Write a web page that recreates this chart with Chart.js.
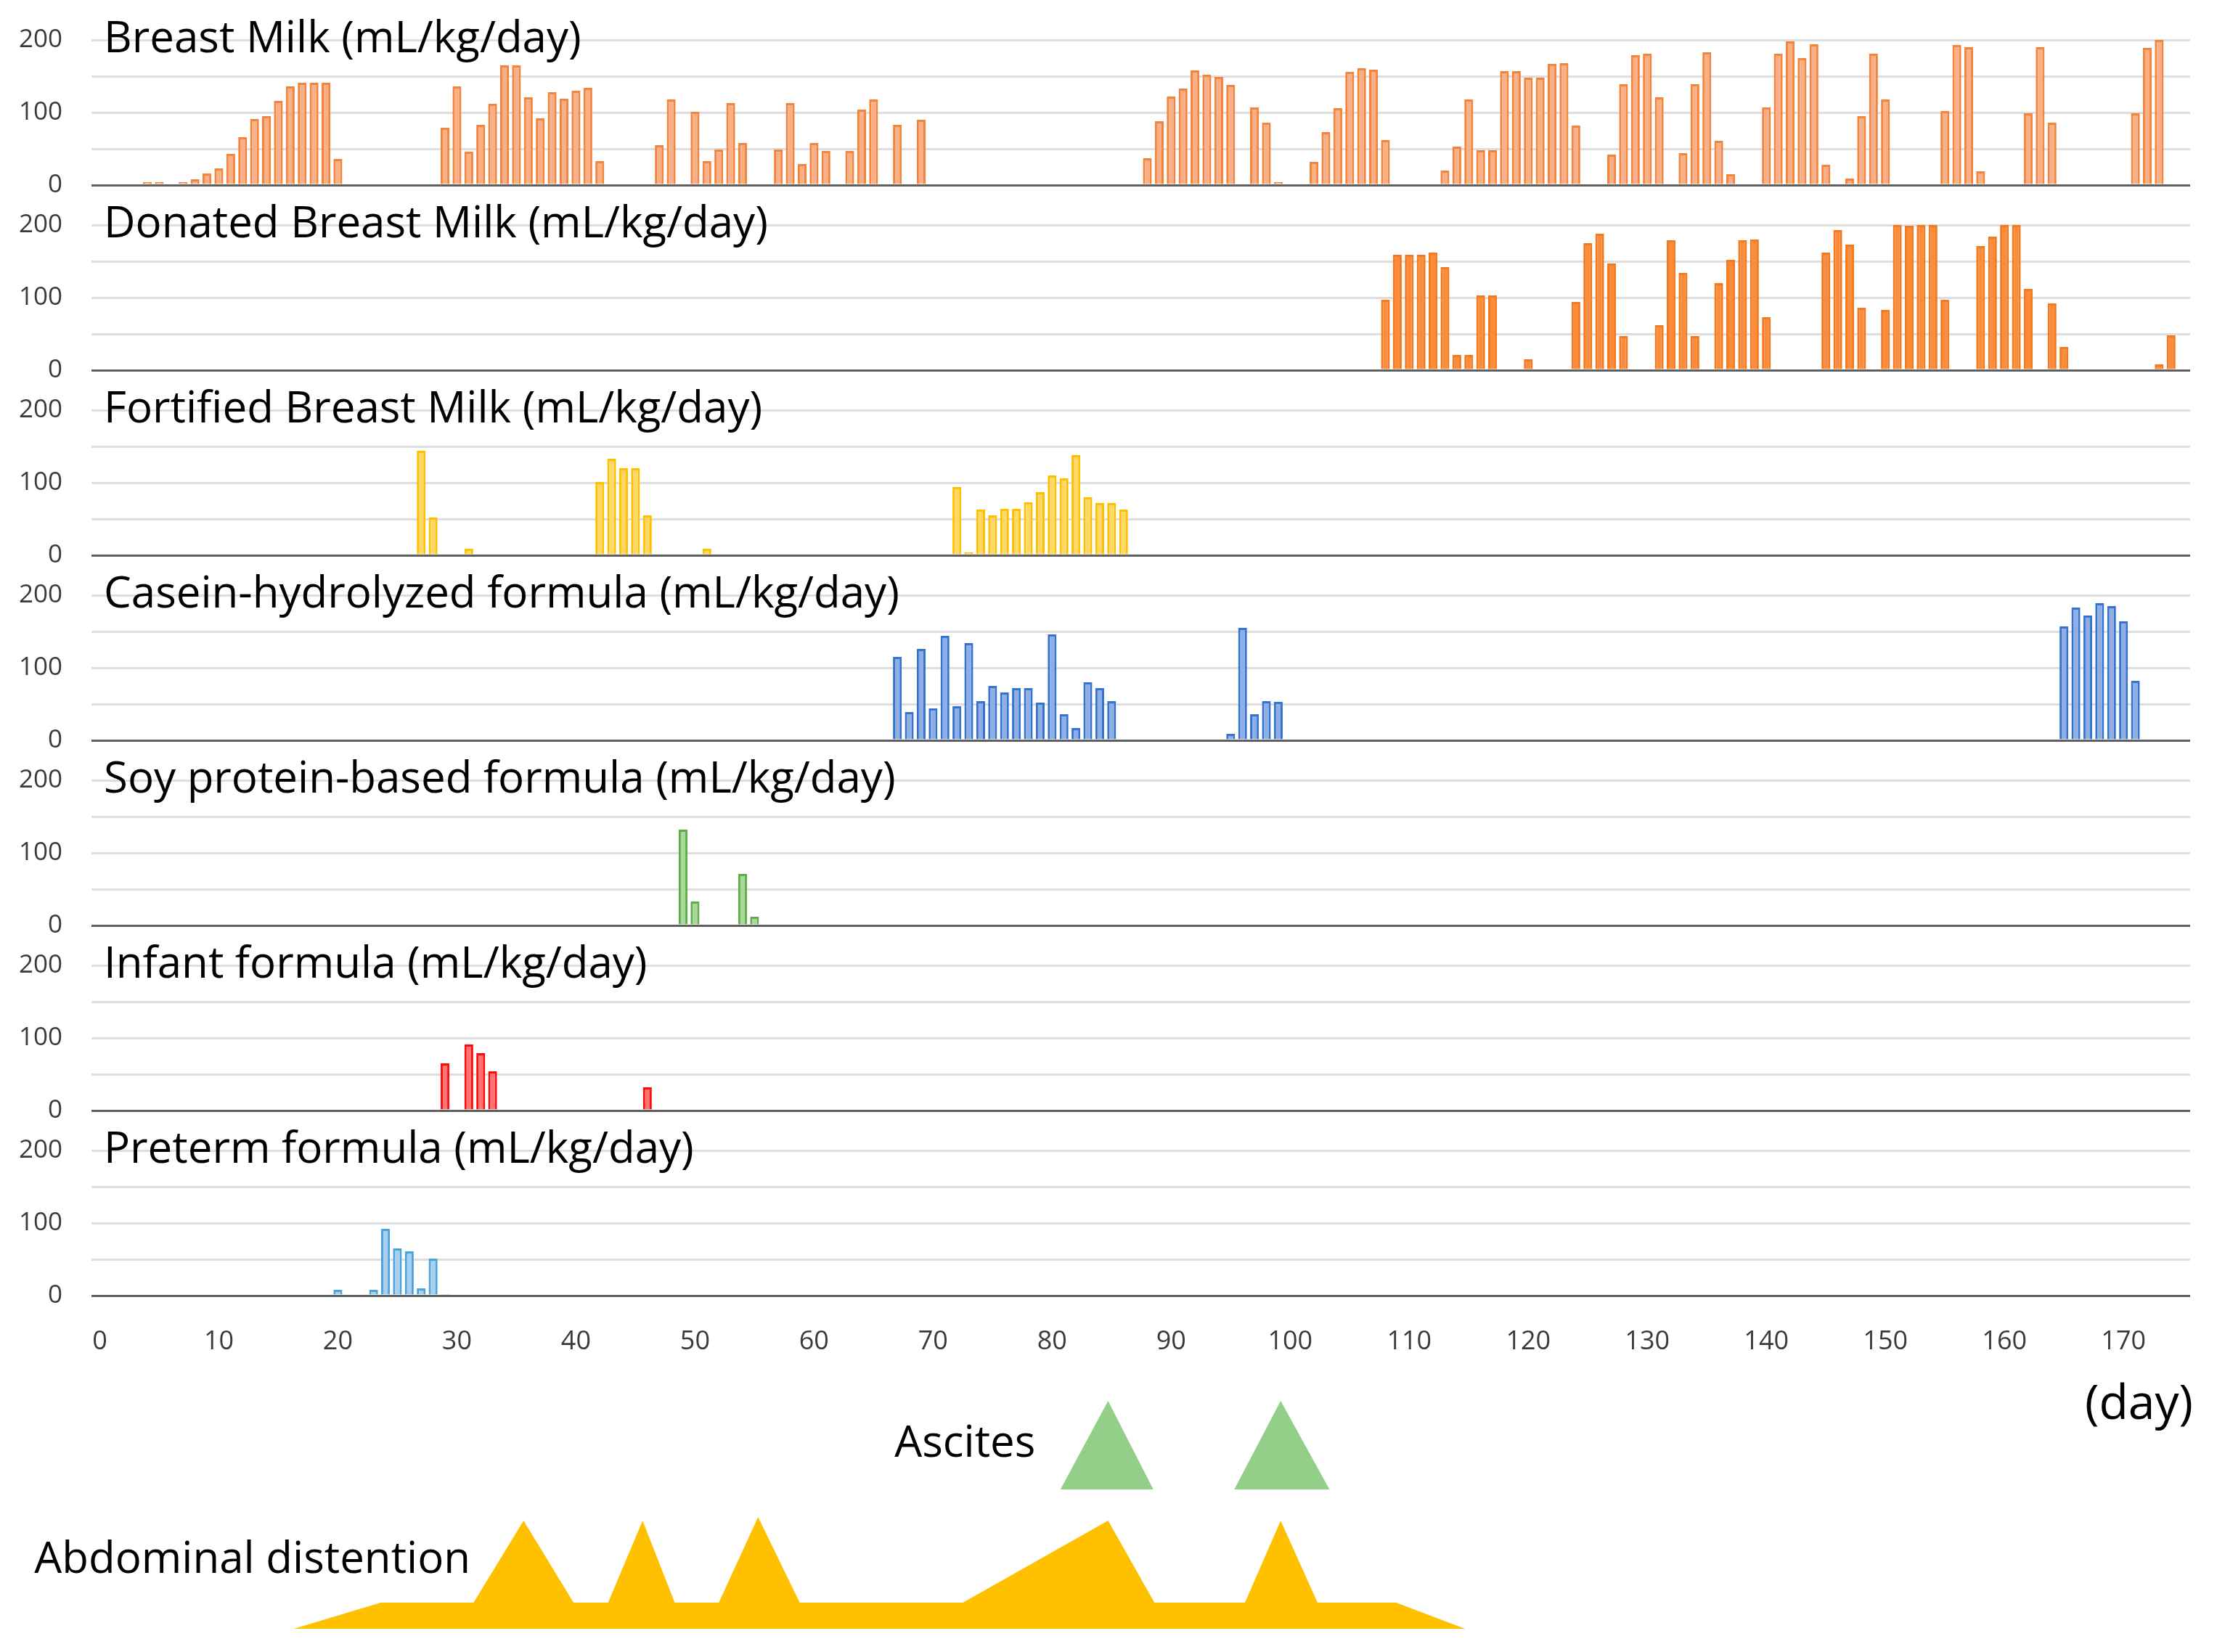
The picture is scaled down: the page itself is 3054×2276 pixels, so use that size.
<!DOCTYPE html>
<html>
<head>
<meta charset="utf-8">
<script src="https://cdn.jsdelivr.net/npm/chart.js@4.4.1/dist/chart.umd.min.js"></script>
<style>
html,body{margin:0;padding:0;background:#fff}
#wrap{position:relative;width:3054px;height:2276px;overflow:hidden;background:#fff}
#wrap canvas{position:absolute;left:0}
</style>
</head>
<body>
<div id="wrap"></div>
<script>
// axis values
const xTicks=[0,10,20,30,40,50,60,70,80,90,100,110,120,130,140,150,160,170]
const yGrid=[0,50,100,150,200]
const yLabels=[0,100,200]

// daily intake per feed type (day, mL/kg/day)
const breastMilkDays=[4,5,7,8,9,10,11,12,13,14,15,16,17,18,19,20,29,30,31,32,33,34,35,36,37,38,39,40,41,42,47,48,50,51,52,53,54,57,58,59,60,61,63,64,65,67,69,88,89,90,91,92,93,94,95,97,98,99,102,103,104,105,106,107,108,113,114,115,116,117,118,119,120,121,122,123,124,127,128,129,130,131,133,134,135,136,137,140,141,142,143,144,145,147,148,149,150,155,156,157,158,162,163,164,171,172,173]
const breastMilkValues=[4,4,4,8,16,23,43,66,91,95,116,136,141,141,141,36,79,136,46,83,112,165,165,121,92,128,119,130,134,33,55,118,101,33,49,113,58,49,113,29,58,47,47,104,118,83,90,37,88,122,133,158,152,149,138,107,86,4,32,73,106,156,161,159,62,20,53,118,48,48,157,157,148,148,167,168,82,42,139,179,181,121,44,139,183,61,15,107,181,198,175,194,28,9,95,181,118,102,193,190,19,99,190,86,99,189,200]

const donatedDays=[108,109,110,111,112,113,114,115,116,117,120,124,125,126,127,128,131,132,133,134,136,137,138,139,140,145,146,147,148,150,151,152,153,154,155,158,159,160,161,162,164,165,173,174]
const donatedValues=[97,159,159,159,162,142,21,21,103,103,15,94,175,188,147,47,62,179,134,47,120,152,179,180,73,162,193,173,86,83,200,199,200,200,97,171,184,200,200,112,92,32,8,48]

const fortifiedDays=[27,28,31,42,43,44,45,46,51,72,73,74,75,76,77,78,79,80,81,82,83,84,85,86]
const fortifiedValues=[144,52,9,101,133,120,120,55,9,94,4,63,55,64,64,73,87,110,106,138,80,72,72,63]

const caseinDays=[67,68,69,70,71,72,73,74,75,76,77,78,79,80,81,82,83,84,85,95,96,97,98,99,165,166,167,168,169,170,171]
const caseinValues=[115,39,126,44,144,47,134,54,75,66,72,72,52,146,36,17,80,72,54,9,155,36,54,53,157,183,172,189,185,164,82]

const soyDays=[49,50,54,55]
const soyValues=[132,33,71,12]

const infantDays=[29,31,32,33,46]
const infantValues=[65,91,79,54,32]

const pretermDays=[20,23,24,25,26,27,28,29]
const pretermValues=[8,8,92,65,61,10,51,2]

// symptom bands (day, height level)
const distentionDays=[16.3,23.6,31.4,35.6,39.8,42.7,45.6,48.3,52.0,55.3,58.8,72.5,84.7,88.6,96.2,99.2,102.3,108.9,114.7]
const distentionLevels=[32,68,68,181,68,68,181,68,68,186,68,68,181,68,68,181,68,68,32]
const ascitesDays1=[80.7,84.7,88.5]
const ascitesDays2=[95.3,99.2,103.3]
const ascitesLevels=[224,346,224]

const panels=[
  {title:'Breast Milk (mL/kg/day)',days:breastMilkDays,values:breastMilkValues,border:'#F4843C',fill:'#F9B086'},
  {title:'Donated Breast Milk (mL/kg/day)',days:donatedDays,values:donatedValues,border:'#F57A1F',fill:'#FA8C3C'},
  {title:'Fortified Breast Milk (mL/kg/day)',days:fortifiedDays,values:fortifiedValues,border:'#FFC000',fill:'#FFD866'},
  {title:'Casein-hydrolyzed formula (mL/kg/day)',days:caseinDays,values:caseinValues,border:'#3573D0',fill:'#8EAEE4'},
  {title:'Soy protein-based formula (mL/kg/day)',days:soyDays,values:soyValues,border:'#5EAD48',fill:'#A9D89B'},
  {title:'Infant formula (mL/kg/day)',days:infantDays,values:infantValues,border:'#FF0A0A',fill:'#FF7373'},
  {title:'Preterm formula (mL/kg/day)',days:pretermDays,values:pretermValues,border:'#4CA2DC',fill:'#A7D0F0'}
]

const W=3054, PANEL_H=255, AXIS_H=115, BELOW=30, X_MIN=-0.7, X_MAX=175.6
const FONT='"Open Sans", "Noto Sans", sans-serif'
const wrap=document.getElementById('wrap')

function addCanvas(top,h){
  const c=document.createElement('canvas')
  c.width=W; c.height=h
  c.style.top=top+'px'; c.style.width=W+'px'; c.style.height=h+'px'
  wrap.appendChild(c)
  return c
}

const panelTitle={
  id:'panelTitle',
  afterDraw(chart,args,opts){
    const ctx=chart.ctx
    const y=chart.scales.y.getPixelForValue(200)
    ctx.save()
    ctx.font='60px '+FONT
    ctx.fillStyle='#000'
    ctx.textBaseline='alphabetic'
    ctx.fillText(opts.text,chart.chartArea.left+17,y+17)
    ctx.restore()
  }
}

panels.forEach((p,i)=>{
  const last=i===panels.length-1
  const h=last?PANEL_H+AXIS_H:PANEL_H+BELOW
  const canvas=addCanvas(i*PANEL_H,h)
  new Chart(canvas,{
    type:'bar',
    data:{datasets:[{
      data:p.days.map((d,k)=>({x:d,y:p.values[k]})),
      backgroundColor:p.fill,
      borderColor:p.border,
      borderWidth:3,
      borderSkipped:'start',
      barPercentage:0.74,
      categoryPercentage:1
    }]},
    options:{
      responsive:false,
      devicePixelRatio:1,
      animation:false,
      layout:{padding:{left:0,right:37,top:0,bottom:last?0:BELOW}},
      plugins:{legend:{display:false},tooltip:{enabled:false},panelTitle:{text:p.title}},
      scales:{
        x:{
          type:'linear',min:X_MIN,max:X_MAX,offset:false,display:last,
          grid:{display:false,offset:false},border:{display:false},
          afterBuildTicks:s=>{s.ticks=xTicks.map(v=>({value:v}))},
          afterFit:s=>{if(last){s.height=AXIS_H;s.paddingLeft=0;s.paddingRight=0}},
          ticks:{autoSkip:false,maxRotation:0,padding:34,color:'#3a3a3a',font:{family:FONT,size:36}}
        },
        y:{
          min:0,max:PANEL_H,
          afterBuildTicks:s=>{s.ticks=yGrid.map(v=>({value:v}))},
          afterFit:s=>{s.width=126;s.paddingTop=0;s.paddingBottom=0},
          grid:{drawTicks:false,lineWidth:3,color:c=>c.tick&&c.tick.value===0?'#5f5f5f':'#dedede'},
          border:{display:false},
          ticks:{padding:40,color:'#3a3a3a',font:{family:FONT,size:35},
            callback:v=>yLabels.includes(v)?v:''}
        }
      }
    },
    plugins:[panelTitle]
  })
})

// symptom chart below the axis
const notes={
  id:'notes',
  afterDraw(chart){
    const ctx=chart.ctx, xs=chart.scales.x, ys=chart.scales.y
    ctx.save()
    ctx.fillStyle='#000'
    ctx.textBaseline='alphabetic'
    ctx.font='60px '+FONT
    ctx.textAlign='right'
    ctx.fillText('Ascites',xs.getPixelForValue(78.6),ys.getPixelForValue(269))
    ctx.textAlign='left'
    ctx.fillText('Abdominal distention',xs.getPixelForValue(-5.5),ys.getPixelForValue(109))
    ctx.font='66px '+FONT
    ctx.textAlign='right'
    ctx.fillText('(day)',chart.chartArea.right+4,ys.getPixelForValue(321))
    ctx.restore()
  }
}

const NOTE_TOP=1870, NOTE_H=2276-1870
const shape=(days,levels,base,color)=>({
  data:days.map((d,k)=>({x:d,y:levels[k]})),
  fill:{value:base},
  backgroundColor:color,
  borderWidth:0,
  pointRadius:0,
  tension:0
})
new Chart(addCanvas(NOTE_TOP,NOTE_H),{
  type:'line',
  data:{datasets:[
    shape(distentionDays,distentionLevels,distentionLevels[0],'#FFC000'),
    shape(ascitesDays1,ascitesLevels,ascitesLevels[0],'#93CF88'),
    shape(ascitesDays2,ascitesLevels,ascitesLevels[0],'#93CF88')
  ]},
  options:{
    responsive:false,
    devicePixelRatio:1,
    animation:false,
    layout:{padding:{left:126,right:37,top:0,bottom:0}},
    plugins:{legend:{display:false},tooltip:{enabled:false}},
    scales:{
      x:{type:'linear',min:X_MIN,max:X_MAX,display:false},
      y:{min:0,max:NOTE_H,display:false}
    }
  },
  plugins:[notes]
})
</script>
</body>
</html>
